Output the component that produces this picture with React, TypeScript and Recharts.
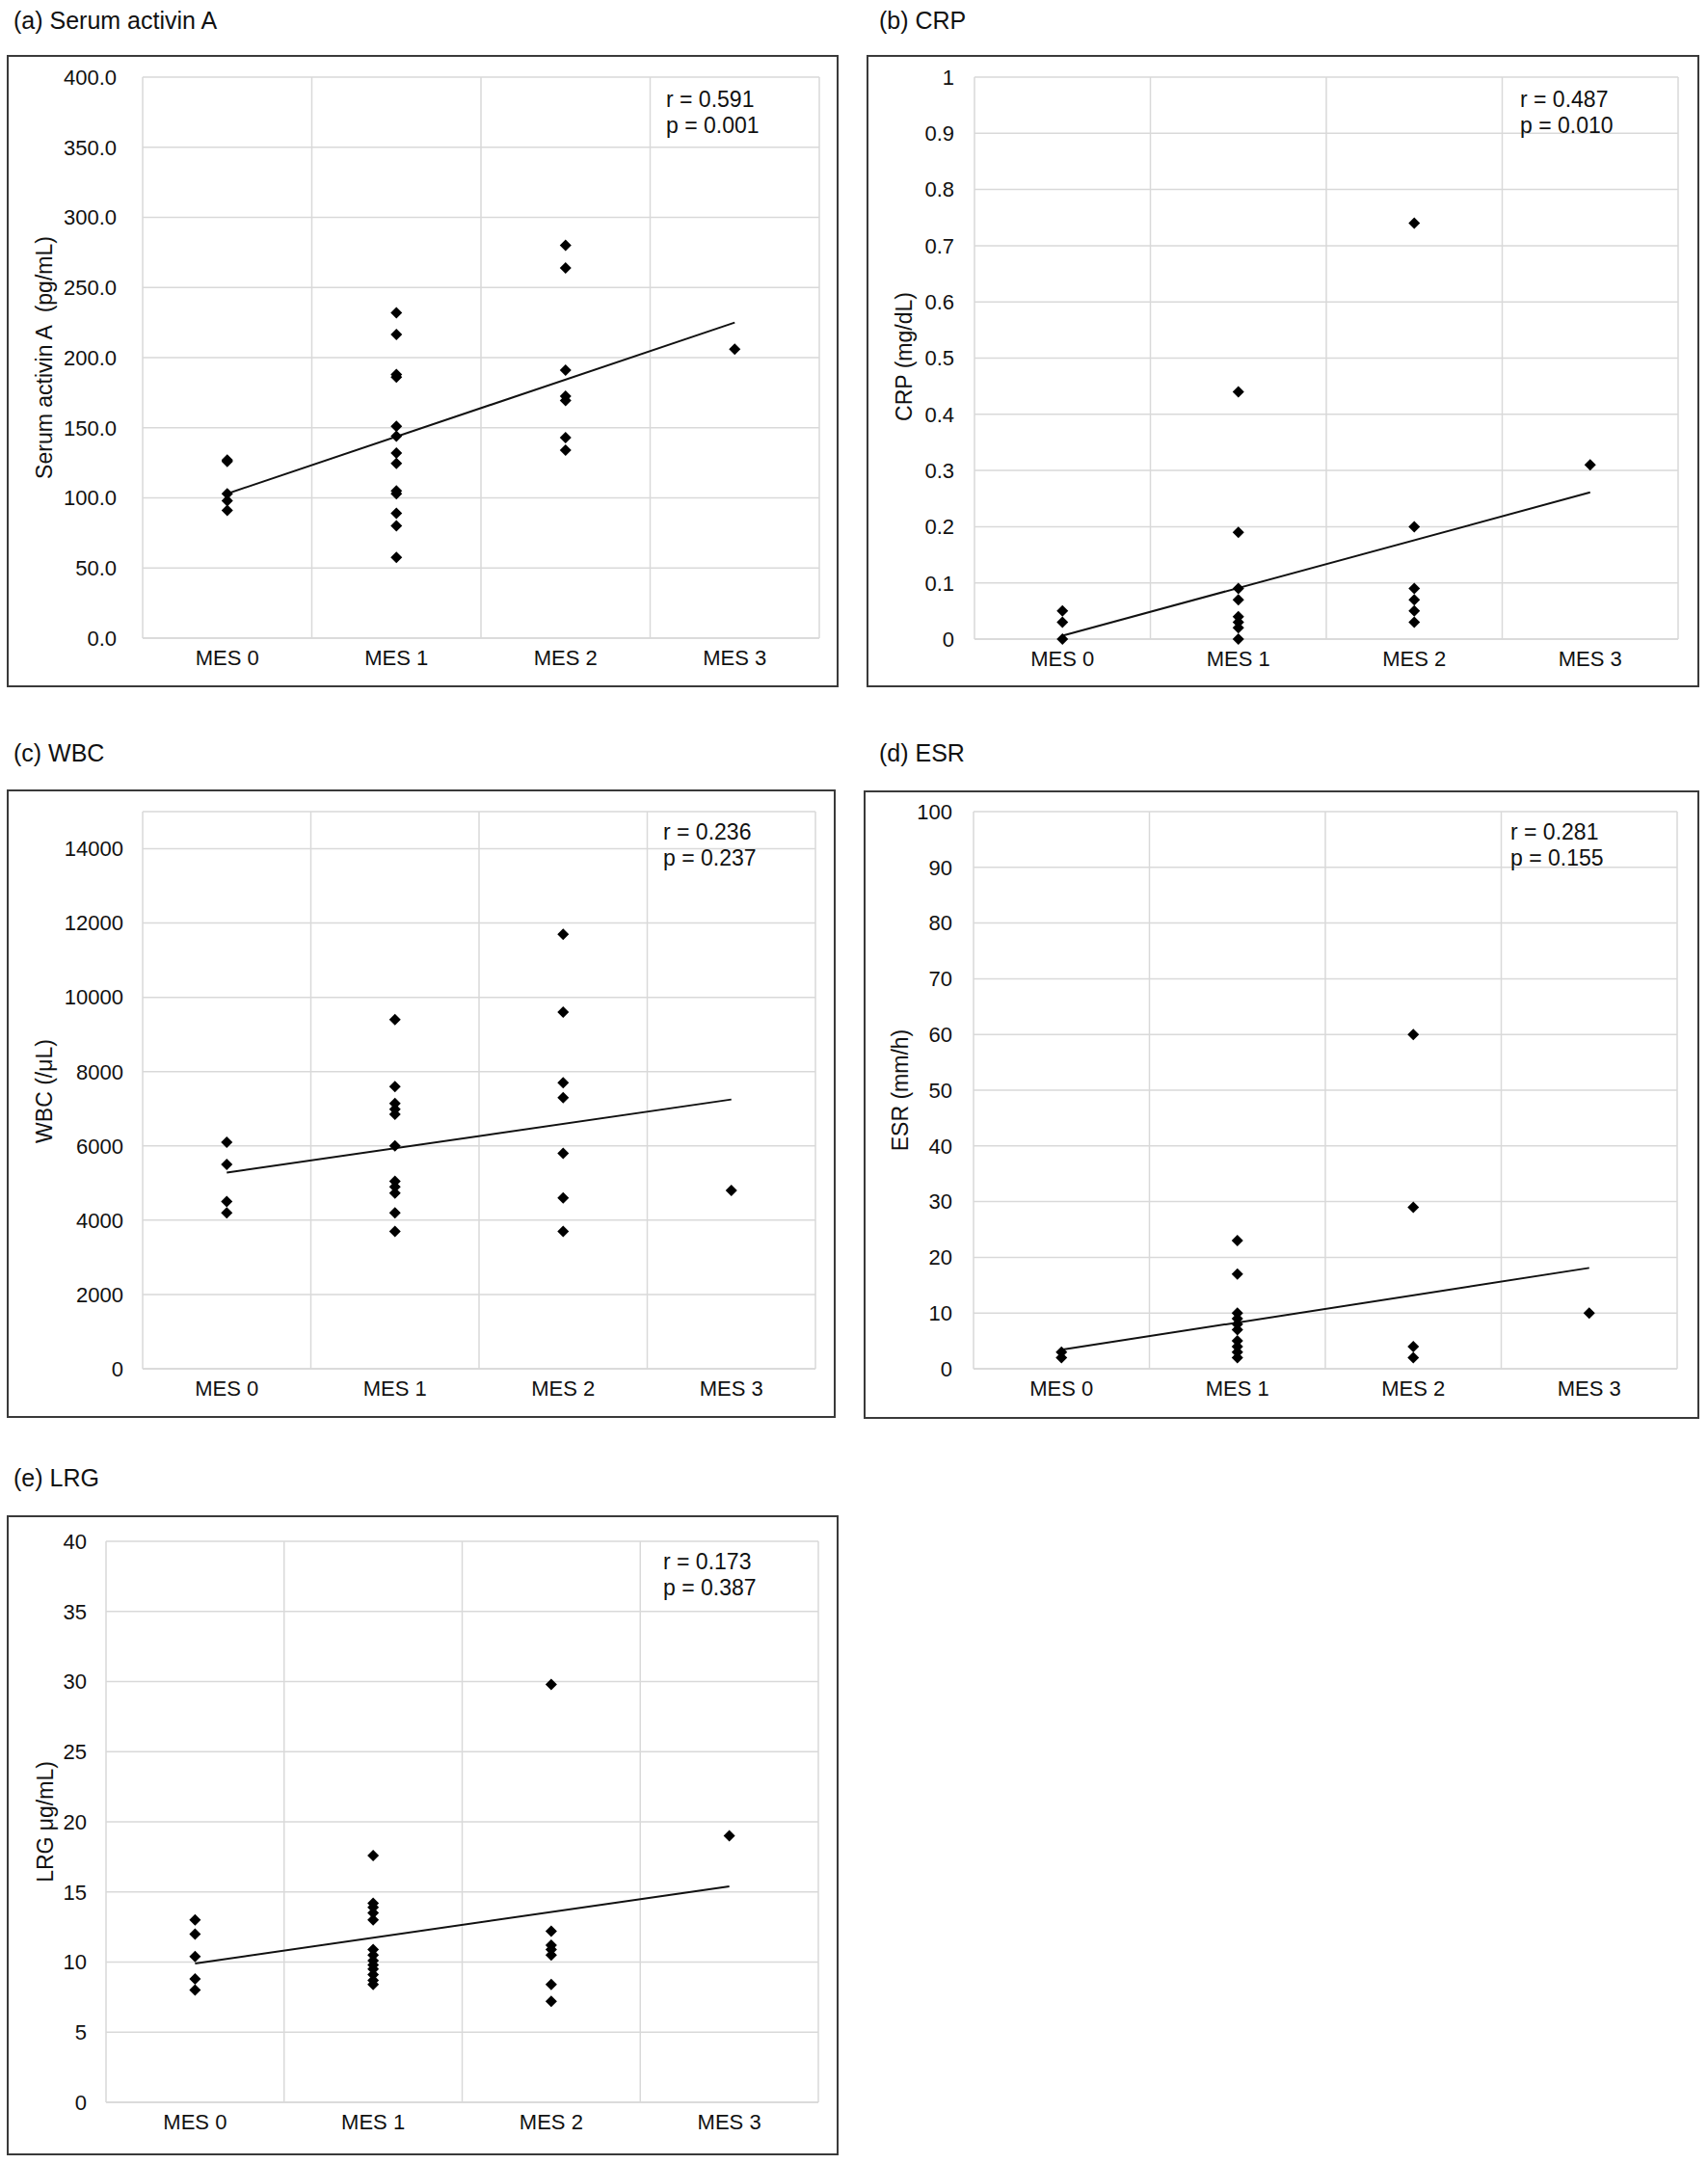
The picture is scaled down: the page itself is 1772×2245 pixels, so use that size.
import { ComposedChart, Scatter, Line, XAxis, YAxis, CartesianGrid, ReferenceLine } from 'recharts';

const FONT = '"Liberation Sans", Arial, Helvetica, sans-serif';
const GRID = '#d9d9d9';
const INK = '#111';

const categories = ['MES 0', 'MES 1', 'MES 2', 'MES 3'];
// band edges between the MES groups (x = group index)
const categoryEdges = [-0.5, 0.5, 1.5, 2.5, 3.5];

// values per MES group
const activinValues = [
  [127, 126, 103, 98, 91],
  [232, 216.5, 188, 186, 151, 144, 132, 124.5, 105, 103, 89, 80, 57.5],
  [280, 264, 191, 172.5, 169.5, 143, 134],
  [206],
];
const activinTrend = [103, 225];
const activinTicks = [0, 50, 100, 150, 200, 250, 300, 350, 400];

const crpValues = [
  [0.05, 0.03, 0],
  [0.44, 0.19, 0.09, 0.07, 0.04, 0.03, 0.02, 0],
  [0.74, 0.2, 0.09, 0.07, 0.05, 0.03],
  [0.31],
];
const crpTrend = [0.006, 0.261];
const crpTicks = [0, 0.1, 0.2, 0.3, 0.4, 0.5, 0.6, 0.7, 0.8, 0.9, 1];

const wbcValues = [
  [6100, 5500, 4500, 4200],
  [9400, 7600, 7140, 6990, 6850, 6000, 5050, 4900, 4730, 4200, 3700],
  [11700, 9600, 7700, 7300, 5800, 4600, 3700],
  [4800],
];
const wbcTrend = [5280, 7250];
const wbcTicks = [0, 2000, 4000, 6000, 8000, 10000, 12000, 14000];

const esrValues = [
  [3, 2],
  [23, 17, 10, 9, 8, 7, 5, 4, 3, 2],
  [60, 29, 4, 2],
  [10],
];
const esrTrend = [3.4, 18.1];
const esrTicks = [0, 10, 20, 30, 40, 50, 60, 70, 80, 90, 100];

const lrgValues = [
  [13.0, 12.0, 10.4, 8.8, 8.0],
  [17.6, 14.2, 13.9, 13.5, 13.0, 10.9, 10.5, 10.1, 9.8, 9.5, 9.1, 8.7, 8.4],
  [29.8, 12.2, 11.2, 10.9, 10.5, 8.4, 7.2],
  [19.0],
];
const lrgTrend = [9.9, 15.4];
const lrgTicks = [0, 5, 10, 15, 20, 25, 30, 35, 40];

const Diamond = (props: any) => {
  const { cx, cy } = props;
  if (cx == null || cy == null) return null;
  const s = 6;
  return <polygon points={`${cx},${cy - s} ${cx + s},${cy} ${cx},${cy + s} ${cx - s},${cy}`} fill="#000" />;
};

interface Box { x: number; y: number; w: number; h: number }
interface Plot { l: number; t: number; r: number; b: number }

interface PanelProps {
  title: string;
  titlePos: [number, number];
  yLabel: string;
  labelPos: [number, number];
  stats: [string, string];
  statsPos: [number, number];
  values: number[][];
  trend: number[];
  ticks: number[];
  yMax: number;
  fmt: (v: number) => string;
  tickGap: number;
  frame: Box;
  plot: Plot;
}

function Panel(p: PanelProps) {
  const B = 2;
  const innerX = p.frame.x + B;
  const innerY = p.frame.y + B;
  const cw = p.frame.w - 2 * B;
  const ch = p.frame.h - 2 * B;
  const yAxisWidth = p.plot.l - innerX;
  const top = p.plot.t - innerY;
  const right = innerX + cw - p.plot.r;
  const bottomTotal = innerY + ch - p.plot.b;
  const points = p.values.flatMap((group, i) => group.map((v) => ({ x: i, y: v })));
  const trendData = [
    { x: 0, y: p.trend[0] },
    { x: categories.length - 1, y: p.trend[1] },
  ];
  const text = { position: 'absolute' as const, fontFamily: FONT, color: INK, whiteSpace: 'nowrap' as const };

  return (
    <>
      <div style={{ ...text, left: p.titlePos[0], top: p.titlePos[1] - 15, fontSize: 25, lineHeight: '30px' }}>{p.title}</div>
      <div
        style={{
          position: 'absolute',
          left: p.frame.x,
          top: p.frame.y,
          width: p.frame.w,
          height: p.frame.h,
          border: `${B}px solid #3a3a3a`,
          boxSizing: 'border-box',
          background: '#fff',
        }}
      >
        <ComposedChart width={cw} height={ch} margin={{ top, right, bottom: 4, left: 0 }}>
          <CartesianGrid vertical={false} stroke={GRID} strokeWidth={1.5} />
          {categoryEdges.map((e) => (
            <ReferenceLine key={e} x={e} stroke={GRID} strokeWidth={1.5} ifOverflow="visible" />
          ))}
          <XAxis
            type="number"
            dataKey="x"
            domain={[categoryEdges[0], categoryEdges[categoryEdges.length - 1]]}
            ticks={[0, 1, 2, 3]}
            interval={0}
            tickFormatter={(i: number) => categories[i]}
            axisLine={{ stroke: GRID, strokeWidth: 1.5 }}
            tickLine={false}
            tickSize={0}
            tickMargin={12}
            height={bottomTotal - 4}
            tick={{ fontSize: 22, fill: INK, fontFamily: FONT }}
          />
          <YAxis
            type="number"
            dataKey="y"
            domain={[0, p.yMax]}
            ticks={p.ticks}
            interval={0}
            tickFormatter={p.fmt}
            axisLine={false}
            tickLine={false}
            tickSize={0}
            tickMargin={p.tickGap}
            width={yAxisWidth}
            tick={{ fontSize: 22, fill: INK, fontFamily: FONT }}
          />
          <Scatter data={points} shape={<Diamond />} isAnimationActive={false} />
          <Line
            data={trendData}
            dataKey="y"
            stroke="#111"
            strokeWidth={2}
            dot={false}
            activeDot={false}
            isAnimationActive={false}
          />
        </ComposedChart>
      </div>
      <div
        style={{
          ...text,
          left: p.labelPos[0],
          top: p.labelPos[1],
          fontSize: 23,
          lineHeight: '26px',
          transform: 'translate(-50%, -50%) rotate(-90deg)',
        }}
      >
        {p.yLabel}
      </div>
      <div style={{ ...text, left: p.statsPos[0], top: p.statsPos[1] - 13, fontSize: 23, lineHeight: '26px' }}>
        {p.stats[0]}
      </div>
      <div style={{ ...text, left: p.statsPos[0], top: p.statsPos[1] + 27 - 13, fontSize: 23, lineHeight: '26px' }}>
        {p.stats[1]}
      </div>
    </>
  );
}

const oneDecimal = (v: number) => v.toFixed(1);
const plain = (v: number) => String(Math.round(v * 10) / 10);

export default function App() {
  return (
    <div style={{ position: 'absolute', left: 0, top: 0, width: 1772, height: 2245, background: '#fff' }}>
      <Panel
        title="(a) Serum activin A"
        titlePos={[14, 21]}
        yLabel={'Serum activin A\u00a0 (pg/mL)'}
        labelPos={[46, 371]}
        stats={['r = 0.591', 'p = 0.001']}
        statsPos={[691, 103]}
        values={activinValues}
        trend={activinTrend}
        ticks={activinTicks}
        yMax={400}
        fmt={oneDecimal}
        tickGap={27}
        frame={{ x: 7, y: 57, w: 863, h: 656 }}
        plot={{ l: 148, t: 80, r: 850, b: 662 }}
      />
      <Panel
        title="(b) CRP"
        titlePos={[912, 21]}
        yLabel="CRP (mg/dL)"
        labelPos={[938, 370]}
        stats={['r = 0.487', 'p = 0.010']}
        statsPos={[1577, 103]}
        values={crpValues}
        trend={crpTrend}
        ticks={crpTicks}
        yMax={1}
        fmt={plain}
        tickGap={21}
        frame={{ x: 899, y: 57, w: 864, h: 656 }}
        plot={{ l: 1011, t: 80, r: 1741, b: 663 }}
      />
      <Panel
        title="(c) WBC"
        titlePos={[14, 781]}
        yLabel="WBC (/μL)"
        labelPos={[46, 1132]}
        stats={['r = 0.236', 'p = 0.237']}
        statsPos={[688, 863]}
        values={wbcValues}
        trend={wbcTrend}
        ticks={wbcTicks}
        yMax={15000}
        fmt={plain}
        tickGap={20}
        frame={{ x: 7, y: 819, w: 860, h: 652 }}
        plot={{ l: 148, t: 842, r: 846, b: 1420 }}
      />
      <Panel
        title="(d) ESR"
        titlePos={[912, 781]}
        yLabel="ESR (mm/h)"
        labelPos={[934, 1131]}
        stats={['r = 0.281', 'p = 0.155']}
        statsPos={[1567, 863]}
        values={esrValues}
        trend={esrTrend}
        ticks={esrTicks}
        yMax={100}
        fmt={plain}
        tickGap={22}
        frame={{ x: 896, y: 820, w: 867, h: 652 }}
        plot={{ l: 1010, t: 842, r: 1740, b: 1420 }}
      />
      <Panel
        title="(e) LRG"
        titlePos={[14, 1533]}
        yLabel="LRG μg/mL)"
        labelPos={[47, 1890]}
        stats={['r = 0.173', 'p = 0.387']}
        statsPos={[688, 1620]}
        values={lrgValues}
        trend={lrgTrend}
        ticks={lrgTicks}
        yMax={40}
        fmt={plain}
        tickGap={20}
        frame={{ x: 7, y: 1572, w: 863, h: 664 }}
        plot={{ l: 110, t: 1599, r: 849, b: 2181 }}
      />
    </div>
  );
}
